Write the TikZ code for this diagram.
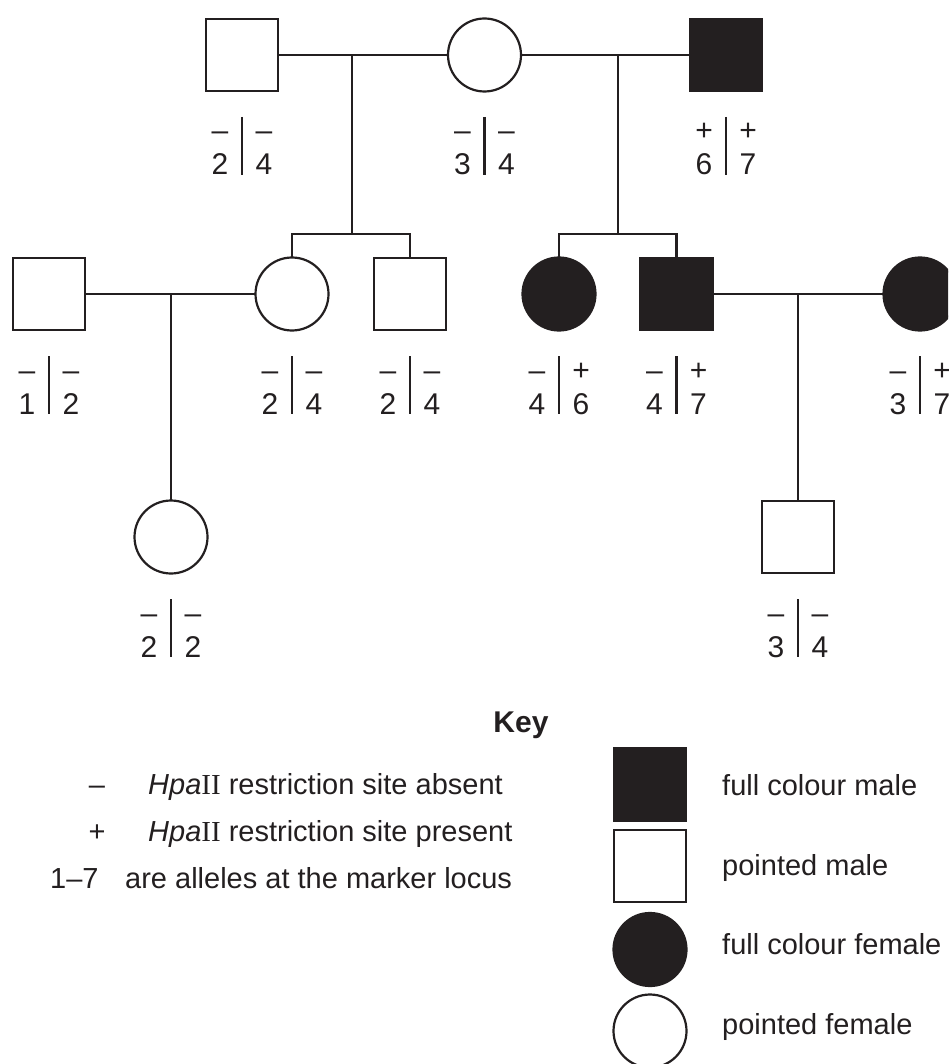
\documentclass[tikz,border=0pt]{standalone}
\usepackage{fontspec}
\setmainfont{Liberation Sans}
\newfontfamily\timesrm{Liberation Serif}
\usetikzlibrary{calc}
\definecolor{ink}{HTML}{231F20}
\newcommand{\geno}[5]{%
  \draw[gbar] ($(#1)+(0,62)$) -- ($(#1)+(0,120)$);
  \node[gt] (#1-ls) at ($(#1)+(-22,86)$) {#2};
  \node[gt] (#1-ld) at ($(#1)+(-22,120)$) {#3};
  \node[gt] (#1-rs) at ($(#1)+(22,86)$) {#4};
  \node[gt] (#1-rd) at ($(#1)+(22,120)$) {#5};
}
\begin{document}
\begin{tikzpicture}[x=1pt,y=-1pt,
  person/.style={draw=ink, line width=2.2pt, inner sep=0pt, outer sep=0pt},
  male/.style={person, rectangle, minimum size=72pt, fill=white},
  female/.style={person, circle, minimum size=73pt, fill=white},
  malef/.style={male, fill=ink},
  femalef/.style={female, fill=ink},
  link/.style={draw=ink, line width=2.2pt},
  gbar/.style={draw=ink, line width=2.6pt},
  gt/.style={text=ink, inner sep=0pt, anchor=base, font=\fontsize{30}{30}\selectfont},
  keytext/.style={text=ink, inner sep=0pt, anchor=base west, font=\fontsize{29}{29}\selectfont},
]
\useasboundingbox (0,0) rectangle (948,1064);
\clip (0,0) rectangle (948,1064);

% junction coordinates
\coordinate (mAB) at (352,55);
\coordinate (sEF) at (352,234);
\coordinate (mBC) at (618,55);
\coordinate (sGH) at (618,234);
\coordinate (mDE) at (171,294);
\coordinate (mHI) at (798,294);

% persons
\node[male] (A) at (242,55) {};
\node[female] (B) at (484.5,55) {};
\node[malef] (C) at (726,55) {};
\node[male] (D) at (49,294) {};
\node[female] (E) at (292,294) {};
\node[male] (F) at (410,294) {};
\node[femalef] (G) at (559,294) {};
\node[malef] (H) at (676.5,294) {};
\node[femalef] (I) at (920,294) {};
\node[female] (J) at (171,537) {};
\node[male] (K) at (798,537) {};

% connectors
\draw[link] (A) -- (B);
\draw[link] (B) -- (C);
\draw[link] (mAB) -- (sEF);
\draw[link] (E.north) -- (E.north |- sEF) -- (F.north |- sEF) -- (F.north);
\draw[link] (mBC) -- (sGH);
\draw[link] (G.north) -- (G.north |- sGH) -- (H.north |- sGH) -- (H.north);
\draw[link] (D) -- (E);
\draw[link] (mDE) -- (J.north);
\draw[link] (H) -- (I);
\draw[link] (mHI) -- (K.north);

% genotypes
\geno{A}{\textendash}{2}{\textendash}{4}
\geno{B}{\textendash}{3}{\textendash}{4}
\geno{C}{+}{6}{+}{7}
\geno{D}{\textendash}{1}{\textendash}{2}
\geno{E}{\textendash}{2}{\textendash}{4}
\geno{F}{\textendash}{2}{\textendash}{4}
\geno{G}{\textendash}{4}{+}{6}
\geno{H}{\textendash}{4}{+}{7}
\geno{I}{\textendash}{3}{+}{7}
\geno{J}{\textendash}{2}{\textendash}{2}
\geno{K}{\textendash}{3}{\textendash}{4}

% key
\node[text=ink, inner sep=0pt, anchor=base, font=\bfseries\fontsize{30}{30}\selectfont] (key) at (521,732) {Key};
\node[keytext, anchor=base] (k1s) at (97,794) {\textendash};
\node[keytext] (k1t) at (148,794) {\textit{Hpa}{\timesrm II} restriction site absent};
\node[keytext, anchor=base] (k2s) at (97,841) {+};
\node[keytext] (k2t) at (148,841) {\textit{Hpa}{\timesrm II} restriction site present};
\node[keytext] (k3s) at (50,888) {1\textendash7};
\node[keytext] (k3t) at (125,888) {are alleles at the marker locus};

\node[malef] (ks1) at (650,784.5) {};
\node[male] (ks2) at (650,866) {};
\node[femalef] (ks3) at (650,949.5) {};
\node[female] (ks4) at (650,1031) {};
\node[keytext] (kt1) at (722,795) {full colour male};
\node[keytext] (kt2) at (722,875) {pointed male};
\node[keytext] (kt3) at (722,954) {full colour female};
\node[keytext] (kt4) at (722,1034) {pointed female};
\end{tikzpicture}
\end{document}
